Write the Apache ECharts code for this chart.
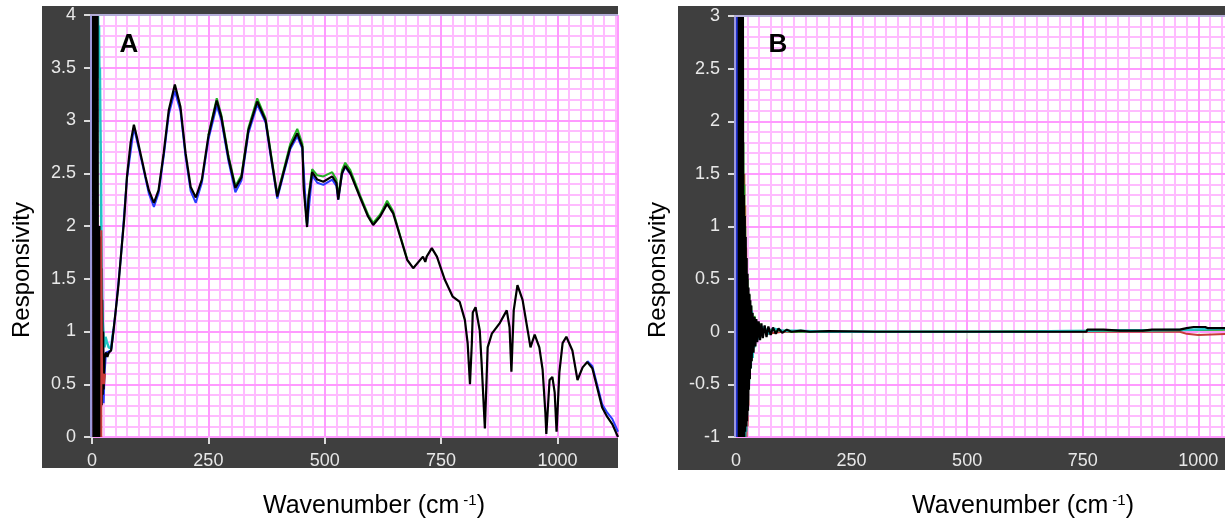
<!DOCTYPE html>
<html><head><meta charset="utf-8">
<script src="https://cdn.jsdelivr.net/npm/echarts@6/dist/echarts.min.js"></script>
<style>
html,body{margin:0;padding:0;background:#fff}
#wrap{position:relative;width:1225px;height:527px;overflow:hidden}
.panel{position:absolute;background:#3f3f3f;z-index:0}
#c{position:absolute;left:0;top:0;width:1225px;height:527px;z-index:1}
</style>
</head><body>
<div id="wrap">
  <div class="panel" style="left:42px;top:6px;width:576px;height:462px"></div>
  <div class="panel" style="left:678px;top:6px;width:547px;height:464px"></div>
  <div id="c"></div>
</div>
<script>
// ---------- data (wavenumber, responsivity) ----------
const X_TICKS = [0, 250, 500, 750, 1000];
const A_X_MAX = 1130, B_X_MAX = 1060;

const A_BLACK = [[2,4],[3,0],[4,4],[5,0],[6,4],[7,0],[8,4],[9,0],[10,4],[11,0],[12,4],[13,0],
 [14,2.0],[15,0],[16,2.0],[17,0],[18,1.9],[19,0.1],[20,1.6],[21,0.3],[22,1.3],[23,0.4],[24,1.0],[25,0.45],
 [27,0.75],[30,0.8],[33,0.76],[36,0.8],[41,0.82],[46,1.0],[51,1.20],[57,1.45],[62,1.71],[69,2.06],[75,2.46],
 [83,2.79],[90,2.96],[96,2.85],[107,2.63],[115,2.47],[122,2.34],[133,2.22],[143,2.34],[154,2.69],[165,3.10],
 [178,3.34],[190,3.13],[201,2.69],[212,2.37],[223,2.27],[236,2.44],[250,2.85],[268,3.19],[278,3.03],[293,2.65],
 [308,2.36],[321,2.46],[336,2.91],[355,3.18],[373,3.00],[385,2.65],[398,2.28],[411,2.50],[426,2.75],[441,2.88],
 [452,2.75],[455,2.35],[462,1.99],[465,2.25],[473,2.51],[484,2.44],[497,2.42],[516,2.47],[525,2.41],[529,2.25],
 [537,2.50],[544,2.57],[555,2.50],[576,2.27],[593,2.09],[604,2.01],[619,2.09],[634,2.21],[647,2.12],[662,1.90],
 [677,1.68],[690,1.60],[711,1.71],[716,1.66],[719,1.71],[730,1.79],[741,1.71],[758,1.49],[775,1.33],[790,1.28],
 [801,1.11],[807,0.89],[812,0.50],[816,0.89],[818,1.18],[824,1.23],[833,1.01],[837,0.70],[844,0.08],[850,0.85],
 [859,0.98],[876,1.08],[891,1.20],[897,1.04],[901,0.62],[906,1.20],[914,1.44],[925,1.30],[936,1.01],[942,0.85],
 [951,0.97],[961,0.85],[968,0.64],[974,0.23],[976,0.03],[983,0.54],[989,0.57],[994,0.42],[998,0.05],[1004,0.61],
 [1011,0.89],[1019,0.95],[1032,0.82],[1043,0.54],[1054,0.66],[1064,0.71],[1075,0.65],[1096,0.28],[1107,0.19],
 [1118,0.12],[1130,0.0]];

const A_BLUE = [[25,0.32],[27,0.6],[30,0.8],[41,0.82],[51,1.2],[62,1.7],[75,2.45],[90,2.93],[107,2.61],[122,2.31],
 [133,2.18],[143,2.31],[154,2.66],[165,3.06],[178,3.28],[190,3.09],[201,2.66],[212,2.33],[223,2.22],[236,2.41],
 [250,2.82],[268,3.14],[278,3.0],[293,2.62],[308,2.32],[321,2.43],[336,2.88],[355,3.15],[373,2.98],[385,2.63],
 [398,2.26],[411,2.48],[426,2.73],[441,2.85],[452,2.73],[462,2.0],[473,2.48],[484,2.41],[497,2.39],[516,2.44],
 [525,2.38],[529,2.25],[537,2.49],[544,2.56],[555,2.49],[560,'-'],[1064,0.72],[1075,0.67],[1096,0.31],
 [1107,0.23],[1118,0.17],[1130,0.05]];

const A_GREEN = [[250,2.86],[268,3.21],[278,3.05],[293,2.67],[308,2.38],[321,2.48],[336,2.93],[355,3.21],[373,3.02],
 [385,2.67],[398,2.30],[411,2.52],[426,2.78],[441,2.92],[452,2.78],[455,2.38],[462,2.02],[465,2.28],[473,2.54],
 [484,2.48],[497,2.47],[516,2.51],[525,2.44],[529,2.28],[537,2.53],[544,2.60],[555,2.53],[576,2.29],[593,2.11],
 [604,2.03],[619,2.11],[634,2.24],[647,2.14],[662,1.91],[677,1.69]];

const A_CYAN = [[13,4],[14,3.7],[15,3.9],[16,3.4],[17,3.5],[18,3.0],[19,2.6],[20,2.0],[21,1.6],[22,1.3],[23,1.1],
 [25,0.95],[27,0.85],[29,0.95],[32,0.9],[36,0.85],[41,0.84],[46,1.02]];

const A_RED = [[20,0],[20,1.96],[21,0.9],[22,0.5],[24,0.6],[26,0.5],[28,0.6]];

const B_BLUE = [[1,3],[1,-1]];

const B_BLACK = [[3,3],[4,-1],[5,3],[6,-1],[7,3],[8,-1],[9,3],[10,-1],[11,3],[12,-1],[13,3],[14,-1],[15,3],[16,-1],
 [17,1.3],[18,-1],[19,1.1],[20,-0.95],[21,0.9],[22,-0.9],[23,0.7],[24,-0.85],[25,0.55],[26,-0.75],[27,0.42],
 [28,-0.55],[29,0.36],[30,-0.45],[31,0.3],[32,-0.35],[33,0.25],[34,-0.28],[36,0.18],[38,-0.2],[40,0.14],[42,-0.14],
 [44,0.12],[46,-0.1],[49,0.1],[52,-0.08],[55,0.08],[58,-0.06],[62,0.06],[66,-0.05],[70,0.05],[75,-0.03],[80,0.04],
 [86,-0.02],[92,0.03],[100,-0.01],[110,0.02],[120,0],[140,0.01],[160,0],[200,0.005],[300,0],[500,0],[700,0],
 [758,0],[760,0.02],[795,0.02],[798,0.005],[830,0.01],[880,0.01],[900,0.02],[960,0.02],[975,0.035],[990,0.045],
 [1015,0.045],[1020,0.035],[1060,0.035]];

const B_CYAN = [[15,1.2],[16,-0.5],[17,1.0],[18,-1],[19,0.9],[20,-1],[21,0.7],[22,-0.95],[23,0.55],[24,-0.8],
 [25,0.4],[26,-0.65],[27,0.3],[28,-0.5],[30,0.25],[32,-0.35],[34,0.2],[36,-0.25],[38,0.12],[40,-0.15],[43,0.1],
 [46,-0.08],[50,0.06],[55,-0.04],[60,0.05],[70,-0.02],[80,0.03],[100,0.01],[130,0.01],[200,0],[600,0],
 [760,0.01],[800,0.015],[900,0.015],[980,0.02],[1060,0.03]];

const B_GREEN = [[16,1.8],[17,0.2],[18,1.4],[19,-0.3],[20,1.0],[21,-0.5],[22,0.7],[23,-0.6],[25,0.5],[27,-0.4],
 [29,0.35],[31,-0.3],[33,0.25],[36,-0.15],[40,0.15],[45,-0.05],[50,0.08],[60,0.02],[80,0.02],[120,0],[500,0],
 [800,0.01],[1060,0.02]];

const B_RED = [[18,1.5],[19,-1],[20,1.2],[21,-1],[22,0.8],[23,-1],[24,0.5],[25,-0.9],[26,0.35],[27,-0.7],
 [28,0.25],[30,-0.45],[32,0.2],[34,-0.25],[37,0.12],[40,-0.12],[45,0.06],[50,-0.05],[60,0.03],[70,-0.02],
 [100,0],[960,0],[975,-0.02],[1000,-0.03],[1060,-0.02]];

// ---------- styling ----------
const FONT = 'Liberation Sans';
const MINOR = '#ffbcff', MAJOR = '#ff9aff';
const TICKC = '#dcdcdc', LABELC = '#e8e8e8';
const plain = function (v) { return String(v); };

function majorX(gi, max) {
  return { gridIndex: gi, type: 'value', position: 'bottom', min: 0, max: max, interval: 250, offset: 3, z: 1,
    axisLine: { show: true, lineStyle: { color: '#3f3f3f', opacity: 0 } },
    axisTick: { show: true, length: 7, lineStyle: { color: TICKC, width: 2 } },
    axisLabel: { color: LABELC, fontSize: 18, fontFamily: FONT, margin: 12, formatter: plain,
      showMaxLabel: max % 250 === 0 },
    splitLine: { show: true, lineStyle: { color: MAJOR, width: 2 } } };
}
// minor grid axes sit on the opposite sides so they never share a side with the labelled axes
function minorX(gi, max) {
  return { gridIndex: gi, type: 'value', position: 'top', min: 0, max: max, interval: 25, z: 0,
    axisLine: { show: false }, axisTick: { show: false }, axisLabel: { show: false },
    splitLine: { show: true, lineStyle: { color: MINOR, width: 2 } } };
}
function majorY(gi, min, max) {
  return { gridIndex: gi, type: 'value', min: min, max: max, interval: 0.5, offset: 4, position: 'left', z: 1,
    axisLine: { show: true, lineStyle: { color: '#3f3f3f', opacity: 0 } },
    axisTick: { show: true, length: 8, lineStyle: { color: TICKC, width: 2 } },
    axisLabel: { color: LABELC, fontSize: 18, fontFamily: FONT, margin: 12, formatter: plain },
    splitLine: { show: true, lineStyle: { color: MAJOR, width: 2 } } };
}
function minorY(gi, min, max) {
  return { gridIndex: gi, type: 'value', min: min, max: max, interval: 0.1, position: 'right', z: 0,
    axisLine: { show: false }, axisTick: { show: false }, axisLabel: { show: false },
    splitLine: { show: true, lineStyle: { color: MINOR, width: 2 } } };
}
function line(data, xi, yi, color, w, z) {
  return { type: 'line', data: data, xAxisIndex: xi, yAxisIndex: yi, showSymbol: false, symbol: 'none',
    lineStyle: { color: color, width: w }, itemStyle: { color: color }, z: z || 3, animation: false,
    connectNulls: false, silent: true };
}
function txt(x, y, text, font, rot, rich) {
  const st = { text: text, font: font, fill: '#000', align: 'center', verticalAlign: 'middle',
    textAlign: 'center', textVerticalAlign: 'middle' };
  if (rich) st.rich = rich;
  return { type: 'text', x: x, y: y, rotation: rot || 0, style: st, z: 100, silent: true };
}
const supRich = { sup: { fontSize: 15, fontFamily: FONT, verticalAlign: 'top', fill: '#000', padding: [0, 0, 0, 4] } };

const option = {
  animation: false,
  backgroundColor: 'transparent',
  graphic: [
    { type: 'line', shape: { x1: 91, y1: 15, x2: 91, y2: 437 }, style: { stroke: '#9c98dc', lineWidth: 2 }, z: 100, silent: true },
    { type: 'line', shape: { x1: 90, y1: 15, x2: 618, y2: 15 }, style: { stroke: '#b4aed8', lineWidth: 2 }, z: 100, silent: true },
    { type: 'line', shape: { x1: 735, y1: 16, x2: 735, y2: 437 }, style: { stroke: '#9c98dc', lineWidth: 2 }, z: 100, silent: true },
    { type: 'line', shape: { x1: 734, y1: 16, x2: 1225, y2: 16 }, style: { stroke: '#b4aed8', lineWidth: 2 }, z: 100, silent: true },
    txt(129, 45, 'A', 'bold 26px "Liberation Sans"'),
    txt(778, 45, 'B', 'bold 26px "Liberation Sans"'),
    txt(22, 270, 'Responsivity', '24px "Liberation Sans"', Math.PI / 2),
    txt(658, 270, 'Responsivity', '24px "Liberation Sans"', Math.PI / 2),
    txt(374, 506, 'Wavenumber (cm{sup|-1})', '25px "Liberation Sans"', 0, supRich),
    txt(1023, 506, 'Wavenumber (cm{sup|-1})', '25px "Liberation Sans"', 0, supRich)
  ],
  grid: [
    { left: 92, top: 15, width: 526, height: 422, show: true, backgroundColor: '#ffffff', borderWidth: 0,
      containLabel: false, outerBoundsMode: 'none' },
    { left: 736, top: 16, width: 490, height: 421, show: true, backgroundColor: '#ffffff', borderWidth: 0,
      containLabel: false, outerBoundsMode: 'none' }
  ],
  xAxis: [ majorX(0, A_X_MAX), minorX(0, A_X_MAX), majorX(1, B_X_MAX), minorX(1, B_X_MAX) ],
  yAxis: [ majorY(0, 0, 4), minorY(0, 0, 4), majorY(1, -1, 3), minorY(1, -1, 3) ],
  series: [
    line(A_GREEN, 0, 0, '#22b022', 2),
    line(A_CYAN, 0, 0, '#20c4c4', 2.5),
    line(A_BLUE, 0, 0, '#2a3cff', 2),
    line(A_BLACK, 0, 0, '#000000', 2.2),
    line(A_RED, 0, 0, '#c83a3a', 2, 4),
    line(B_RED, 2, 2, '#c83a3a', 2),
    line(B_GREEN, 2, 2, '#22a022', 2),
    line(B_CYAN, 2, 2, '#20c4c4', 2.5),
    line(B_BLACK, 2, 2, '#000000', 2.2),
    line(B_BLUE, 2, 2, '#2030d0', 2.5, 4)
  ]
};
const chart = echarts.init(document.getElementById('c'), null, { renderer: 'canvas' });
chart.setOption(option);
</script></body></html>
